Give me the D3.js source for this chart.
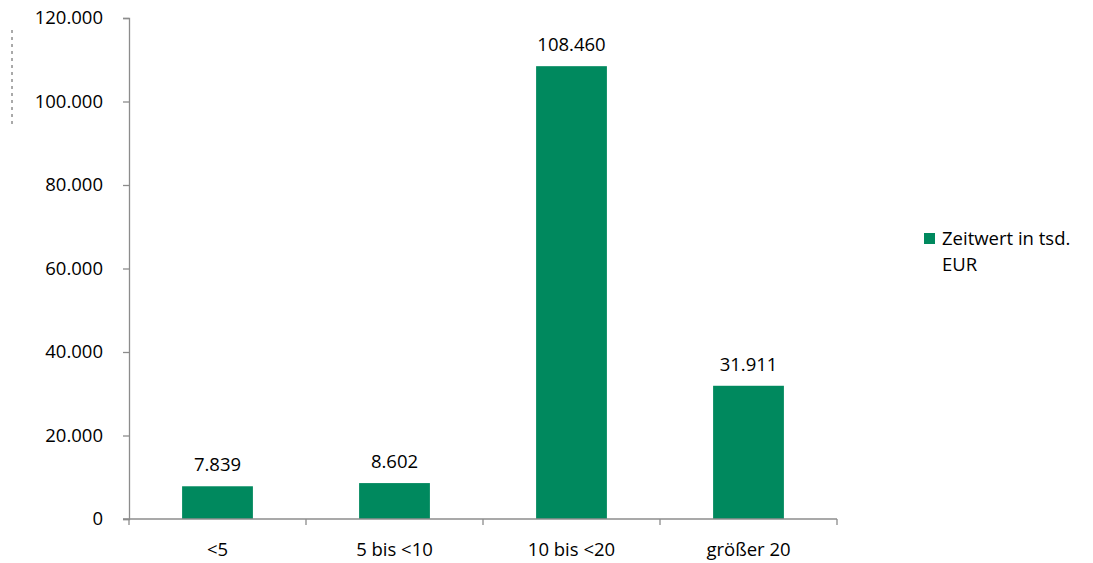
<!DOCTYPE html>
<html>
<head>
<meta charset="utf-8">
<script src="https://cdn.jsdelivr.net/npm/d3@7"></script>
<style>
  body { margin: 0; background: #fff; }
  svg { font-family: "Open Sans", "Noto Sans", sans-serif; }
</style>
</head>
<body>
<div id="chart"></div>
<script>
const categories = ['<5', '5 bis <10', '10 bis <20', 'größer 20'];
const values = [7839, 8602, 108460, 31911];
const yTicks = [0, 20000, 40000, 60000, 80000, 100000, 120000];
const seriesName = ['Zeitwert in tsd.', 'EUR'];

const width = 1093, height = 563;
const barColor = '#00895e';
const axisColor = '#8c8c8c';
const fontSize = 18.5;
const fmt = v => d3.format(',')(v).replace(/,/g, '.');

const svg = d3.select('#chart').append('svg')
  .attr('width', width).attr('height', height);

const x = d3.scaleBand().domain(categories).range([129, 837]).paddingInner(0.6).paddingOuter(0.3);
const y = d3.scaleLinear().domain([0, 120000]).range([519, 18]);

// bars
svg.append('g').selectAll('rect').data(values).enter().append('rect')
  .attr('x', (d, i) => x(categories[i]))
  .attr('width', x.bandwidth())
  .attr('y', d => y(d))
  .attr('height', d => y(0) - y(d))
  .attr('fill', barColor);

// value labels
svg.append('g').selectAll('text').data(values).enter().append('text')
  .attr('x', (d, i) => x(categories[i]) + x.bandwidth() / 2)
  .attr('y', d => y(d) - 15)
  .attr('text-anchor', 'middle')
  .attr('font-size', fontSize)
  .attr('fill', '#000')
  .text(fmt);

// y axis
const yAxis = svg.append('g').attr('transform', 'translate(129,0)')
  .call(d3.axisLeft(y).tickValues(yTicks).tickFormat(fmt).tickSize(6).tickPadding(20));
yAxis.select('.domain').attr('stroke', axisColor).attr('stroke-width', 1.3);
yAxis.selectAll('.tick line').attr('stroke', axisColor).attr('stroke-width', 1.3);
yAxis.selectAll('.tick text').attr('font-size', fontSize).attr('fill', '#000')
  .attr('font-family', '"Open Sans", "Noto Sans", sans-serif');

// x axis: ticks at category boundaries
const xEdges = d3.range(categories.length + 1).map(i => 129 + i * x.step());
const xAxis = svg.append('g').attr('transform', `translate(0,${y(0)})`);
xAxis.append('line').attr('x1', 123).attr('x2', 837).attr('stroke', axisColor).attr('stroke-width', 1.3);
xAxis.selectAll('line.edge').data(xEdges).enter().append('line').attr('class', 'edge')
  .attr('x1', d => d).attr('x2', d => d).attr('y1', 0).attr('y2', 6)
  .attr('stroke', axisColor).attr('stroke-width', 1.3);
xAxis.selectAll('text').data(categories).enter().append('text')
  .attr('x', d => x(d) + x.bandwidth() / 2)
  .attr('y', 37)
  .attr('text-anchor', 'middle')
  .attr('font-size', fontSize)
  .text(d => d);

// dotted artifact at left
svg.append('line').attr('x1', 12).attr('x2', 12).attr('y1', 30).attr('y2', 127)
  .attr('stroke', '#555').attr('stroke-width', 1).attr('stroke-dasharray', '3,4');

// legend
const legend = svg.append('g').attr('transform', 'translate(924,233)');
legend.append('rect').attr('width', 11).attr('height', 11).attr('fill', barColor);
legend.selectAll('text').data(seriesName).enter().append('text')
  .attr('x', 18).attr('y', (d, i) => 12 + i * 26)
  .attr('font-size', fontSize)
  .text(d => d);
</script>
</body>
</html>
